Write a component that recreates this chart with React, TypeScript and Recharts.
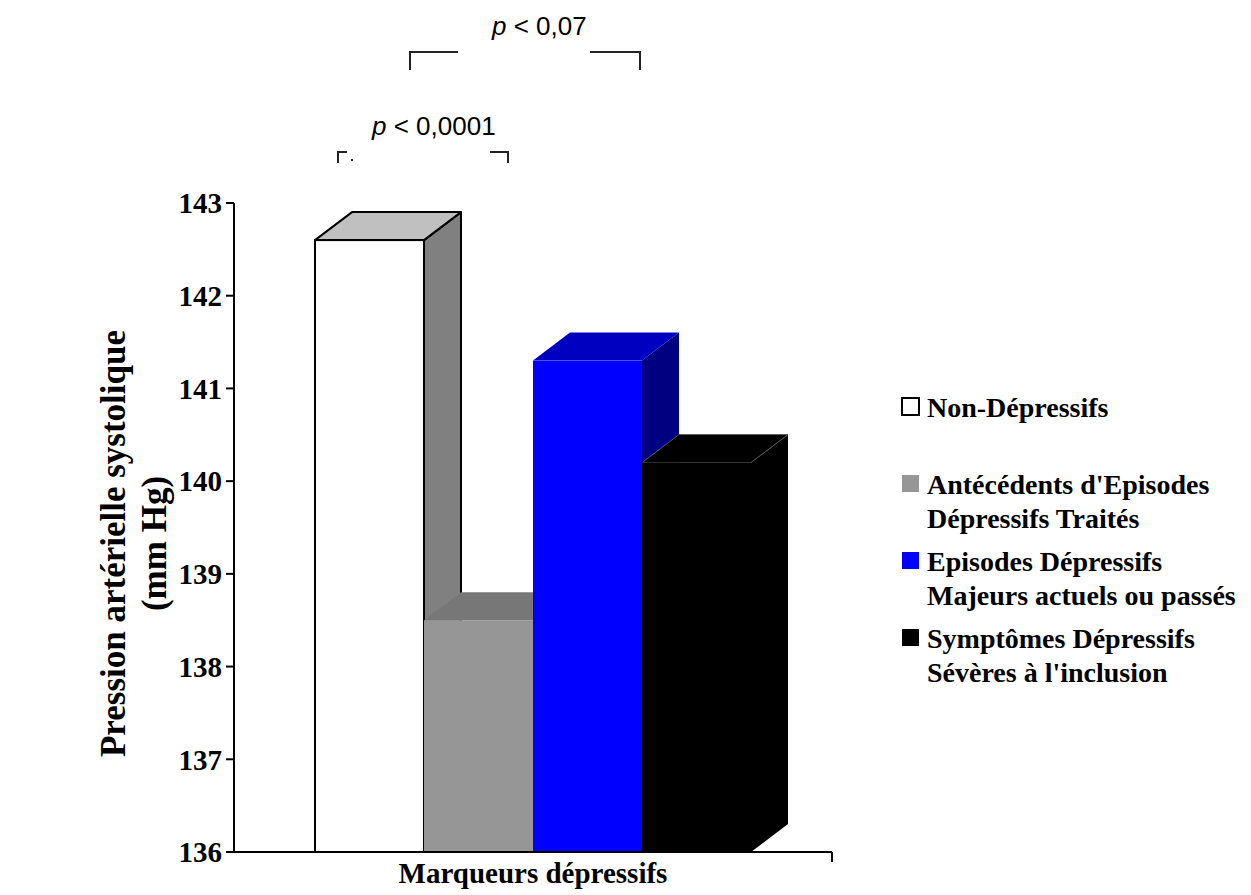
import React from 'react';
import { BarChart, Bar, XAxis, YAxis } from 'recharts';

// ---- data ----
const categories = ['Marqueurs dépressifs'];
const nonDepressifs = [142.6];
const antecedents = [138.5];
const episodesMajeurs = [141.3];
const symptomesSeveres = [140.2];
const yTicks = [136, 137, 138, 139, 140, 141, 142, 143];
const seriesKeys = ['nonDep', 'antec', 'episodes', 'symptomes'];
const seriesLabels = [
  ['Non-Dépressifs'],
  ["Antécédents d'Episodes", 'Dépressifs Traités'],
  ['Episodes Dépressifs', 'Majeurs actuels ou passés'],
  ['Symptômes Dépressifs', "Sévères à l'inclusion"],
];
const yTitleLines = ['Pression artérielle systolique', '(mm Hg)'];
const annotationP = ['p', 'p'];
const annotationRest = [' < 0,07', ' < 0,0001'];

const data = categories.map((name, i) => ({
  name,
  nonDep: nonDepressifs[i],
  antec: antecedents[i],
  episodes: episodesMajeurs[i],
  symptomes: symptomesSeveres[i],
}));

// ---- styles ----
const SERIF = "'Liberation Serif', 'Times New Roman', serif";
const SANS = "'Liberation Sans', Arial, sans-serif";
const faces = [
  { front: '#ffffff', top: '#c0c0c0', side: '#808080', stroke: '#000', sw: 2, legend: '#ffffff', legendStroke: '#000' },
  { front: '#969696', top: '#777777', side: '#606060', stroke: 'none', sw: 0, legend: '#969696' },
  { front: '#0000ff', top: '#0000c0', side: '#000080', stroke: 'none', sw: 0, legend: '#0000ff' },
  { front: '#000000', top: '#000000', side: '#000000', stroke: 'none', sw: 0, topStroke: '#555', legend: '#000000' },
];
const DX = 37;
const DY = 28;

const make3D = (f: any) => (props: any) => {
  const { x, y, width: w, height: h } = props;
  if (x == null || h == null) return null;
  const side = `${x + w},${y} ${x + w + DX},${y - DY} ${x + w + DX},${y + h - DY} ${x + w},${y + h}`;
  const top = `${x},${y} ${x + DX},${y - DY} ${x + w + DX},${y - DY} ${x + w},${y}`;
  return (
    <g>
      <polygon points={side} fill={f.side} stroke={f.stroke} strokeWidth={f.sw} strokeLinejoin="round" />
      <polygon
        points={top}
        fill={f.top}
        stroke={f.topStroke || f.stroke}
        strokeWidth={f.topStroke ? 1 : f.sw}
        strokeLinejoin="round"
      />
      <rect x={x} y={y} width={w} height={h} fill={f.front} stroke={f.stroke} strokeWidth={f.sw} />
    </g>
  );
};

const XTick = (props: any) => {
  const { x, y, payload } = props;
  const off = payload && payload.offset ? payload.offset : 0;
  return (
    <g>
      <line x1={x + off} y1={y} x2={x + off} y2={y + 10} stroke="#000" strokeWidth={2} />
      <text
        x={x}
        y={y + 31}
        textAnchor="middle"
        fontFamily={SERIF}
        fontWeight="bold"
        fontSize={29}
        fill="#000"
      >
        {payload.value}
      </text>
    </g>
  );
};

const YTitle = (props: any) => {
  const vb = props.viewBox || {};
  const cy = (vb.y || 0) + (vb.height || 0) / 2 + 16;
  const xs = [113, 154];
  return (
    <g>
      {yTitleLines.map((t, i) => (
        <text
          key={i}
          x={xs[i]}
          y={cy}
          transform={`rotate(-90, ${xs[i]}, ${cy})`}
          textAnchor="middle"
          dominantBaseline="central"
          fontFamily={SERIF}
          fontWeight="bold"
          fontSize={35}
          fill="#000"
        >
          {t}
        </text>
      ))}
    </g>
  );
};

export default function App() {
  return (
    <div style={{ position: 'absolute', left: 0, top: 0, width: 1251, height: 895, background: '#fff' }}>
      <BarChart
        width={1251}
        height={895}
        data={data}
        margin={{ top: 203, right: 419, bottom: 3, left: 174 }}
        barGap={0}
        barSize={109}
      >
        <XAxis
          dataKey="name"
          height={40}
          axisLine={{ stroke: '#000', strokeWidth: 2 }}
          tickLine={false}
          tickSize={0}
          tickMargin={0}
          tick={<XTick />}
          interval={0}
        />
        <YAxis
          width={60}
          domain={[136, 143]}
          ticks={yTicks}
          allowDataOverflow
          axisLine={{ stroke: '#000', strokeWidth: 2 }}
          tickLine={{ stroke: '#000', strokeWidth: 2 }}
          tickSize={8}
          tickMargin={4}
          tick={{ fontFamily: SERIF, fontWeight: 'bold', fontSize: 29, fill: '#000' }}
          label={{ content: (p: any) => <YTitle {...p} /> }}
        />
        {seriesKeys.map((k, i) => (
          <Bar key={k} dataKey={k} isAnimationActive={false} shape={make3D(faces[i])} />
        ))}
      </BarChart>

      {/* significance annotations */}
      <svg width={1251} height={200} style={{ position: 'absolute', left: 0, top: 0 }}>
        <text x={492} y={35} fontFamily={SANS} fontSize={26} fill="#000">
          <tspan fontStyle="italic">{annotationP[0]}</tspan>
          {annotationRest[0]}
        </text>
        <polyline points="410,70 410,52 458,52" fill="none" stroke="#222" strokeWidth={2} />
        <polyline points="590,52 640,52 640,70" fill="none" stroke="#222" strokeWidth={2} />
        <text x={372} y={135} fontFamily={SANS} fontSize={26} fill="#000">
          <tspan fontStyle="italic">{annotationP[1]}</tspan>
          {annotationRest[1]}
        </text>
        <polyline points="338,163 338,152 347,152" fill="none" stroke="#222" strokeWidth={2} />
        <rect x={351} y={159} width={2} height={2} fill="#222" />
        <polyline points="490,152 508,152 508,163" fill="none" stroke="#222" strokeWidth={2} />
      </svg>

      {/* legend */}
      <svg width={360} height={320} style={{ position: 'absolute', left: 891, top: 380 }}>
        {seriesLabels.map((lines, i) => {
          const base = 417 - 380 + i * 77;
          return (
            <g key={i}>
              <rect
                x={902 - 891}
                y={base - 19}
                width={17}
                height={17}
                fill={faces[i].legend}
                stroke={faces[i].legendStroke || 'none'}
                strokeWidth={faces[i].legendStroke ? 2 : 0}
              />
              {lines.map((t, j) => (
                <text
                  key={j}
                  x={927 - 891}
                  y={base + j * 34}
                  fontFamily={SERIF}
                  fontWeight="bold"
                  fontSize={28}
                  fill="#000"
                >
                  {t}
                </text>
              ))}
            </g>
          );
        })}
      </svg>
    </div>
  );
}
